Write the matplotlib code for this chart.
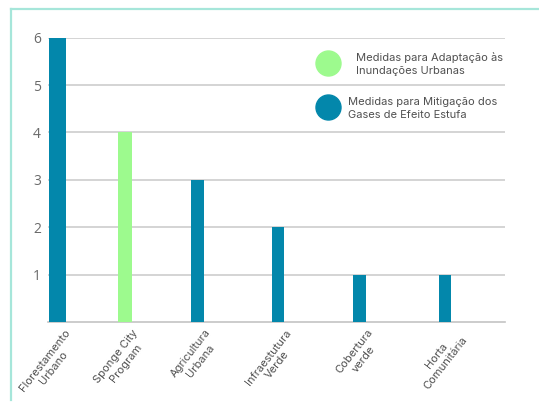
import matplotlib.pyplot as plt
from matplotlib.lines import Line2D
import matplotlib.transforms as mtransforms

# data
categorias = ["Florestamento\nUrbano", "Sponge City\nProgram", "Agricultura\nUrbana",
              "Infraestutura\nVerde", "Cobertura\nverde", "Horta\nComunitária"]
valores = [6, 4, 3, 2, 1, 1]
grupos = ["mitigacao", "adaptacao", "mitigacao", "mitigacao", "mitigacao", "mitigacao"]
legenda = {"adaptacao": "Medidas para Adaptação às\nInundações Urbanas",
           "mitigacao": "Medidas para Mitigação dos\nGases de Efeito Estufa"}
y_ticks = [1, 2, 3, 4, 5, 6]

# layout (pixels inside the plot area)
posicoes = [9, 77, 149.5, 230, 311.5, 397]
larguras = [17, 14, 13.5, 12.7, 12.5, 12]
cores = {"adaptacao": "#9dfa8e", "mitigacao": "#0387ab"}

W, H = 539, 403
fig = plt.figure(figsize=(W / 100, H / 100), dpi=100)
ax = fig.add_axes([48 / W, 1 - 322 / H, (505 - 48) / W, (322 - 37.7) / H])

ax.bar(posicoes, valores, width=larguras, color=[cores[g] for g in grupos], zorder=3)
ax.set_xlim(0, 457)
ax.set_ylim(0, 6)

ax.set_yticks(y_ticks)
ax.yaxis.grid(True, color="#c9c9c9", linewidth=1.1, zorder=0)
for s in ["top", "right", "left"]:
    ax.spines[s].set_visible(False)
ax.spines["bottom"].set_color("#c4c4c4")
ax.spines["bottom"].set_linewidth(1.2)
ax.tick_params(axis="y", length=0, pad=5, labelcolor="#6a6a6a", labelsize=10)
ax.tick_params(axis="x", length=0, pad=4)
for lab in ax.get_yticklabels():
    lab.set_fontfamily("Open Sans")

ax.set_xticks(posicoes)
ax.set_xticklabels(categorias, rotation=52, ha="right", va="top",
                   rotation_mode="anchor", multialignment="center",
                   fontsize=8, color="#505050", fontfamily="Inter", linespacing=1.25)
deslocar = mtransforms.ScaledTranslation(7 / 100, 0, fig.dpi_scale_trans)
for lab in ax.get_xticklabels():
    lab.set_transform(lab.get_transform() + deslocar)

# legend drawn by hand
for grupo, cy, tx in [("adaptacao", 64, 356), ("mitigacao", 108.5, 348)]:
    fig.add_artist(Line2D([327.6 / W], [1 - (cy - 1.3) / H], marker="o", markersize=18,
                          color=cores[grupo], linestyle="none"))
    fig.text(tx / W, 1 - cy / H, legenda[grupo], fontsize=8, color="#505050",
             fontfamily="Inter", va="center", ha="left", linespacing=1.45)

# light frame
fig.add_artist(Line2D([10.5 / W, 10.5 / W], [1 - 400 / H, 1 - 9 / H],
                      color="#a6e6da", linewidth=1.6))
fig.add_artist(Line2D([10.5 / W, 1.0], [1 - 9 / H, 1 - 9 / H],
                      color="#a6e6da", linewidth=1.6))

fig.savefig("out.png", dpi=100)
